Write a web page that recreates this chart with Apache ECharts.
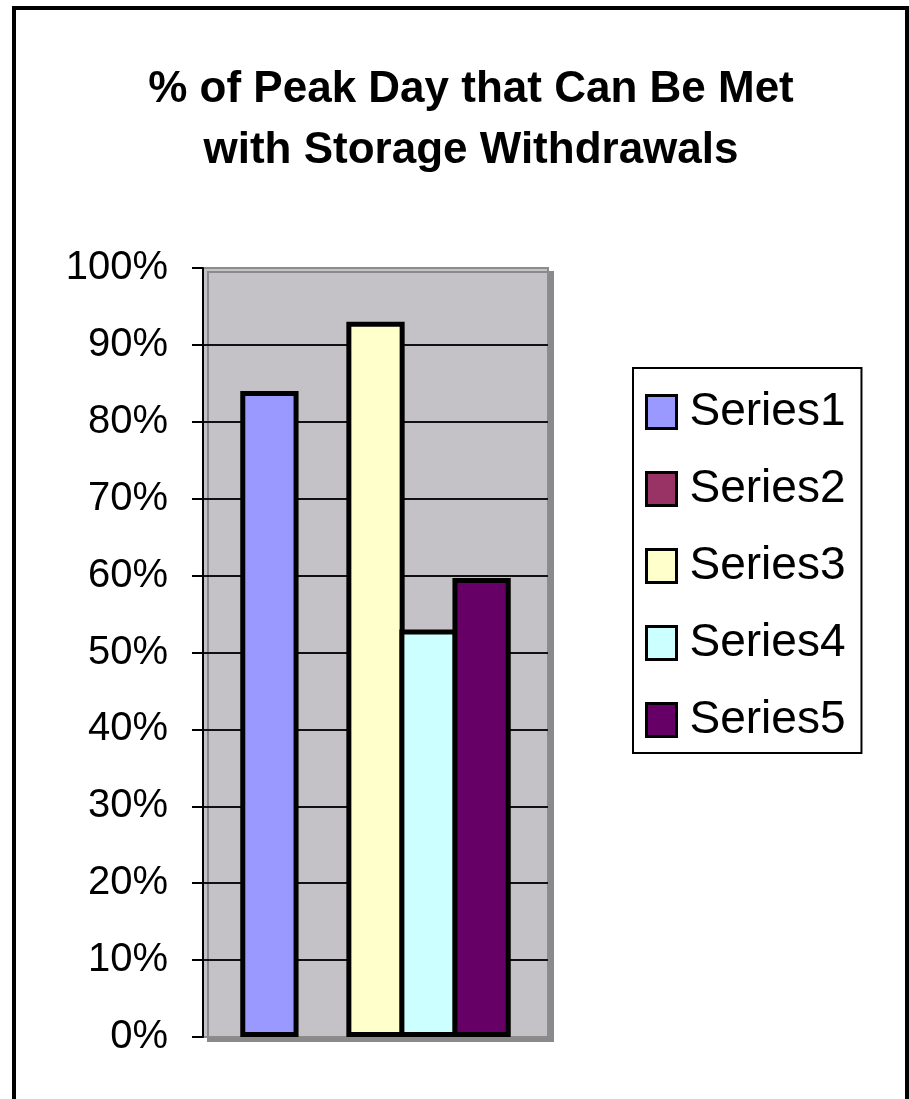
<!DOCTYPE html>
<html>
<head>
<meta charset="utf-8">
<script src="https://cdn.jsdelivr.net/npm/echarts@6/dist/echarts.min.js"></script>
<style>
  html, body { margin: 0; padding: 0; background: #fff; }
  #chart { width: 909px; height: 1099px; }
</style>
</head>
<body>
<div id="chart"></div>
<script>
// ---- data ----
const titleText = '% of Peak Day that Can Be Met\nwith Storage Withdrawals';
const categories = [''];
const seriesNames = ['Series1', 'Series2', 'Series3', 'Series4', 'Series5'];
const seriesValues = [84, 0, 93, 53, 59.7]; // percent
const seriesColors = ['#9999FF', '#993366', '#FFFFCC', '#CCFFFF', '#660066'];
const yTicks = [0, 10, 20, 30, 40, 50, 60, 70, 80, 90, 100];

const FONT = "'Liberation Sans', Arial, sans-serif";

const chart = echarts.init(document.getElementById('chart'), null, { renderer: 'canvas' });

const series = seriesNames.map((name, i) => ({
  name: name,
  type: 'bar',
  barGap: '-9%',
  barCategoryGap: '21.6%',
  data: [seriesValues[i] === 0 ? null : seriesValues[i]],
  itemStyle: { color: seriesColors[i], borderColor: '#000', borderWidth: 5 },
  emphasis: { disabled: true },
  animation: false
}));

chart.setOption({
  animation: false,
  backgroundColor: '#fff',
  graphic: [{
    type: 'rect',
    shape: { x: 14, y: 8, width: 893, height: 1200 },
    style: { fill: 'none', stroke: '#000', lineWidth: 4 },
    silent: true, z: 100
  }],
  title: {
    text: titleText,
    left: 466,
    top: 54,
    textAlign: 'center',
    textStyle: { fontFamily: FONT, fontWeight: 'bold', fontSize: 44, lineHeight: 61, color: '#000' }
  },
  legend: {
    orient: 'vertical',
    left: 633,
    top: 368,
    data: seriesNames,
    borderColor: '#000',
    borderWidth: 2,
    padding: [21, 16, 10, 12],
    itemGap: 31,
    itemWidth: 30,
    itemHeight: 33,
    icon: 'rect',
    itemStyle: { borderColor: '#000', borderWidth: 3 },
    textStyle: { fontFamily: FONT, fontSize: 46, color: '#000', padding: [0, 0, 0, 8] }
  },
  grid: {
    left: 203, top: 268, right: 361, bottom: 62,
    show: true,
    backgroundColor: '#C4C2C6',
    borderColor: '#8C8C8C',
    borderWidth: 2,
    shadowColor: '#8A8A8A',
    shadowOffsetX: 5,
    shadowOffsetY: 4,
    shadowBlur: 0
  },
  xAxis: {
    type: 'category',
    data: categories,
    axisLine: { show: false },
    axisTick: { show: false },
    axisLabel: { show: false }
  },
  yAxis: {
    type: 'value',
    min: yTicks[0],
    max: yTicks[yTicks.length - 1],
    interval: 10,
    axisLine: { show: true, lineStyle: { color: '#000', width: 2 } },
    axisTick: { show: true, length: 11, lineStyle: { color: '#000', width: 2 } },
    axisLabel: { formatter: '{value}%', fontFamily: FONT, fontSize: 40, color: '#000', margin: 35 },
    splitLine: { show: true, showMinLine: false, showMaxLine: false, lineStyle: { color: '#111', width: 2 } }
  },
  series: series
});
</script>
</body>
</html>
